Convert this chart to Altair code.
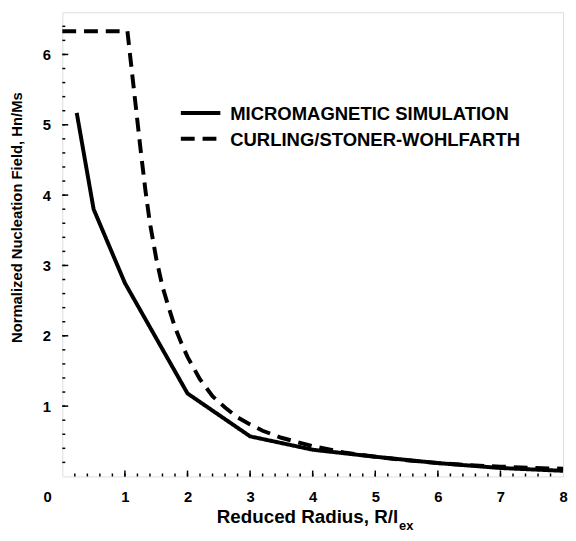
import altair as alt
import pandas as pd

# ---- data ----
mm_x = [0.23, 0.5, 1.0, 2.0, 3.0, 4.0, 5.0, 6.0, 7.0, 8.0]
mm_y = [5.17, 3.80, 2.75, 1.18, 0.57, 0.38, 0.28, 0.19, 0.12, 0.08]

cs_x = [0.0, 1.04, 1.1, 1.15, 1.2, 1.25, 1.33, 1.4, 1.5, 1.6, 1.7, 1.8, 1.9, 2.0,
        2.2, 2.4, 2.6, 2.8, 3.0, 3.2, 3.5, 4.0, 4.5, 5.0, 5.5, 6.0, 6.5, 7.0, 7.5, 8.0]
cs_y = [6.33, 6.33, 5.85, 5.45, 5.05, 4.65, 4.05, 3.6, 3.1, 2.7, 2.4, 2.12, 1.9, 1.7,
        1.38, 1.14, 0.98, 0.84, 0.74, 0.65, 0.55, 0.43, 0.34, 0.28, 0.23, 0.19, 0.16,
        0.14, 0.12, 0.11]

series_names = ["MICROMAGNETIC SIMULATION", "CURLING/STONER-WOHLFARTH"]

x_tick_labels = [1, 2, 3, 4, 5, 6, 7, 8]
y_tick_labels = [1, 2, 3, 4, 5, 6]
x_minor = [round(i * 0.2, 1) for i in range(1, 40)]
y_minor = [round(i * 0.2, 1) for i in range(1, 33)]

x_title = "Reduced Radius, R/l"
x_title_sub = "ex"
y_title = "Normalized Nucleation Field, Hn/Ms"

# ---- tables ----
df = pd.concat([
    pd.DataFrame({"x": mm_x, "y": mm_y, "series": series_names[0], "o": range(len(mm_x))}),
    pd.DataFrame({"x": cs_x, "y": cs_y, "series": series_names[1], "o": range(len(cs_x))}),
])
xt = pd.DataFrame({"v": x_minor, "major": [float(v).is_integer() for v in x_minor]})
yt = pd.DataFrame({"v": y_minor, "major": [float(v).is_integer() for v in y_minor]})

W, H = 507, 470
FONT = "Liberation Sans"
DASHES = [[1, 0], [14, 8]]

xscale = alt.Scale(domain=[0, 8], nice=False, zero=False)
yscale = alt.Scale(domain=[0, 6.6], nice=False, zero=False)

lines = alt.Chart(df).mark_line(strokeWidth=4, color="black", strokeCap="butt").encode(
    x=alt.X("x:Q", scale=xscale,
            axis=alt.Axis(values=x_tick_labels, format="d", title=None, ticks=False, domain=False,
                          grid=False, labelFont=FONT, labelFontSize=15, labelFontWeight="bold",
                          labelPadding=13, labelOverlap=False, labelFlush=False, labelColor="black")),
    y=alt.Y("y:Q", scale=yscale,
            axis=alt.Axis(values=y_tick_labels, format="d", title=None, ticks=False, domain=False,
                          grid=False, labelFont=FONT, labelFontSize=15, labelFontWeight="bold",
                          labelPadding=12, labelOverlap=False, labelColor="black")),
    strokeDash=alt.StrokeDash("series:N", scale=alt.Scale(domain=series_names, range=DASHES),
                              legend=None),
    order="o:Q",
)

xticks = alt.Chart(xt).mark_rule(color="black", strokeWidth=1.5).encode(
    x=alt.X("v:Q", scale=xscale), y=alt.value(H), y2=alt.value(H - 3))
xticks_major = alt.Chart(xt[xt.major]).mark_rule(color="black", strokeWidth=1.5).encode(
    x=alt.X("v:Q", scale=xscale), y=alt.value(H), y2=alt.value(H - 6))
yticks = alt.Chart(yt).mark_rule(color="black", strokeWidth=1.5).encode(
    y=alt.Y("v:Q", scale=yscale), x=alt.value(0), x2=alt.value(3))
yticks_major = alt.Chart(yt[yt.major]).mark_rule(color="black", strokeWidth=1.5).encode(
    y=alt.Y("v:Q", scale=yscale), x=alt.value(0), x2=alt.value(6))

origin = alt.Chart(pd.DataFrame({"t": ["0"]})).mark_text(
    font=FONT, fontSize=15, fontWeight="bold", color="black", dx=-15, dy=21,
    baseline="middle", align="center").encode(
    x=alt.datum(0), y=alt.datum(0), text="t:N")

# legend (drawn manually: line sample + label)
leg_parts = []
for i, name in enumerate(series_names):
    yy = 102 + 26 * i
    leg_parts.append(
        alt.Chart(pd.DataFrame({"t": [name]})).mark_rule(
            color="black", strokeWidth=4, strokeDash=DASHES[i], strokeCap="butt").encode(
            x=alt.value(120), x2=alt.value(160), y=alt.value(yy)))
    leg_parts.append(
        alt.Chart(pd.DataFrame({"t": [name]})).mark_text(
            font=FONT, fontSize=18.7, fontWeight="bold", color="black", align="left",
            baseline="middle").encode(x=alt.value(170), y=alt.value(yy + 1), text="t:N"))

xtitle = alt.Chart(pd.DataFrame({"t": [x_title]})).mark_text(
    font=FONT, fontSize=19, fontWeight="bold", color="black", align="right",
    baseline="alphabetic").encode(x=alt.value(340), y=alt.value(517), text="t:N")
xsub = alt.Chart(pd.DataFrame({"t": [x_title_sub]})).mark_text(
    font=FONT, fontSize=13, fontWeight="bold", color="black", align="left",
    baseline="alphabetic").encode(x=alt.value(341), y=alt.value(524), text="t:N")
ytitle = alt.Chart(pd.DataFrame({"t": [y_title]})).mark_text(
    font=FONT, fontSize=15, fontWeight="bold", color="black", align="center",
    baseline="middle", angle=270).encode(x=alt.value(-46), y=alt.value(208), text="t:N")

chart = alt.layer(lines, xticks, xticks_major, yticks, yticks_major, origin,
                  *leg_parts, xtitle, xsub, ytitle).properties(
    width=W, height=H,
    autosize=alt.AutoSizeParams(type="none"),
    padding={"left": 55, "top": 1, "right": 5, "bottom": 58},
).configure_view(stroke="black", strokeWidth=2).configure(background="white")

chart.save("out.html", embed_options={"renderer": "svg", "actions": False})
